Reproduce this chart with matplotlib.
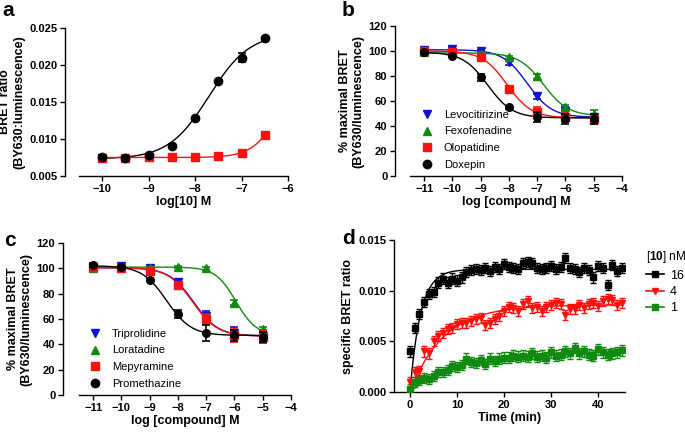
import numpy as np
import matplotlib
matplotlib.use('Agg')
import matplotlib.pyplot as plt
from matplotlib.lines import Line2D

plt.rcParams['font.family'] = ['Liberation Sans', 'DejaVu Sans']
plt.rcParams['font.weight'] = 'bold'
plt.rcParams['axes.labelweight'] = 'bold'
plt.rcParams['mathtext.fontset'] = 'custom'
plt.rcParams['mathtext.rm'] = 'Liberation Sans'
plt.rcParams['mathtext.bf'] = 'Liberation Sans:bold'

BLUE = '#1010d0'
GREEN = '#108a10'
RED = '#ff1010'

# ---- panel a: saturation binding ----
a_logc = [-10, -9.5, -9, -8.5, -8, -7.5, -7, -6.5]
a_total = [0.0076, 0.0074, 0.0078, 0.0091, 0.0128, 0.0178, 0.0210, 0.0236]
a_total_err = [0.0002, 0.0002, 0.0002, 0.0002, 0.0002, 0.0002, 0.0006, 0.0002]
a_nsb = [0.0075, 0.0074, 0.0076, 0.0076, 0.0076, 0.0077, 0.0081, 0.0105]
# fitted curve parameters: bottom, top, logEC50, hill
a_total_fit = [0.0073, 0.0243, -7.70, 1.0]
a_nsb_fit = [0.0075, 0.0200, -6.17, 1.5]

# ---- panel b/c: competition curves ----
logc = [-11, -10, -9, -8, -7, -6, -5]

b_names = ['Levocitirizine', 'Fexofenadine', 'Olopatidine', 'Doxepin']
b_vals = [[101, 102, 100, 91, 64, 52, 47],
          [99, 99, 98, 95, 80, 55, 50],
          [100, 99, 95, 70, 51, 47, 46],
          [99, 96, 79, 55, 47, 46, 46]]
b_errs = [[1, 1, 1, 2, 2, 3, 3],
          [1, 1, 1, 1, 2, 2, 3],
          [1, 1, 2, 2, 4, 4, 4],
          [1, 1, 3, 1, 4, 4, 4]]
# bottom, top, logIC50, hill
b_fits = [[47, 101, -7.35, 1.0],
          [48, 98.5, -6.78, 1.0],
          [46.5, 100, -8.07, 1.0],
          [46.5, 99, -8.75, 1.0]]

c_names = ['Triprolidine', 'Loratadine', 'Mepyramine', 'Promethazine']
c_vals = [[101, 102, 100, 89, 62, 49, 46],
          [100, 101, 100, 101, 100, 73, 52],
          [101, 100, 98, 87, 60, 47, 46],
          [103, 101, 91, 64, 49, 47, 46]]
c_errs = [[1, 1, 1, 2, 4, 5, 5],
          [1, 1, 1, 1, 1, 2, 2],
          [1, 1, 1, 2, 4, 5, 5],
          [1, 1, 1, 3, 6, 4, 4]]
c_fits = [[46.5, 100.5, -7.45, 1.0],
          [47, 101, -5.95, 1.2],
          [46.5, 100.5, -7.48, 1.0],
          [47, 102, -8.40, 1.0]]

markers = ['v', '^', 's', 'o']
colors = [BLUE, GREEN, RED, 'black']

# ---- panel d: association kinetics ----
time_min = list(range(46))
d_16 = [0.0040, 0.0063, 0.0077, 0.0089, 0.0097, 0.0099, 0.0108, 0.0112, 0.0108, 0.0112,
        0.0110, 0.0113, 0.0118, 0.0120, 0.0121, 0.0120, 0.0122, 0.0119, 0.0123, 0.0121,
        0.0126, 0.0123, 0.0122, 0.0121, 0.0127, 0.0128, 0.0127, 0.0122, 0.0121, 0.0122,
        0.0124, 0.0121, 0.0123, 0.0132, 0.0122, 0.0121, 0.0118, 0.0122, 0.0120, 0.0113,
        0.0124, 0.0122, 0.0106, 0.0125, 0.0119, 0.0122]
d_4 = [0.0010, 0.0020, 0.0021, 0.0040, 0.0038, 0.0050, 0.0055, 0.0058, 0.0062, 0.0063,
       0.0067, 0.0068, 0.0068, 0.0070, 0.0072, 0.0073, 0.0066, 0.0068, 0.0072, 0.0075,
       0.0080, 0.0084, 0.0083, 0.0080, 0.0087, 0.0090, 0.0083, 0.0084, 0.0080, 0.0084,
       0.0086, 0.0088, 0.0087, 0.0076, 0.0082, 0.0082, 0.0086, 0.0083, 0.0087, 0.0088,
       0.0085, 0.0090, 0.0092, 0.0091, 0.0086, 0.0088]
d_1 = [0.0003, 0.0010, 0.0012, 0.0014, 0.0013, 0.0016, 0.0020, 0.0020, 0.0022, 0.0026,
       0.0025, 0.0027, 0.0033, 0.0030, 0.0029, 0.0032, 0.0028, 0.0033, 0.0031, 0.0033,
       0.0034, 0.0034, 0.0036, 0.0035, 0.0036, 0.0035, 0.0038, 0.0035, 0.0036, 0.0034,
       0.0039, 0.0036, 0.0037, 0.0040, 0.0038, 0.0043, 0.0038, 0.0040, 0.0037, 0.0036,
       0.0042, 0.0039, 0.0037, 0.0038, 0.0039, 0.0041]
d_err = [0.0005, 0.0005, 0.0005]
# one-phase association fits: plateau, k (1/min)
d_fits = [[0.0121, 0.45], [0.0086, 0.14], [0.0040, 0.10]]
d_labels = ['16', '4', '1']
d_markers = ['s', 'v', 's']
d_colors = ['black', RED, GREEN]


def sigmoid(x, p, rising=True):
    bottom, top, mid, hill = p
    if rising:
        return bottom + (top - bottom) / (1 + 10 ** (hill * (mid - x)))
    return bottom + (top - bottom) / (1 + 10 ** (hill * (x - mid)))


fig = plt.figure(figsize=(6.85, 4.32), dpi=100)


def add_axes_px(l, r, t, b):
    return fig.add_axes([l / 685, 1 - b / 432, (r - l) / 685, (b - t) / 432])


def prism_style(ax, offset_px):
    ax.spines['top'].set_visible(False)
    ax.spines['right'].set_visible(False)
    ax.spines['left'].set_position(('outward', offset_px * 0.72))
    for s in ['left', 'bottom']:
        ax.spines[s].set_linewidth(1.0)
    ax.tick_params(width=1.0, length=3.5, labelsize=8, pad=2)
    ax.patch.set_alpha(0)


# panel a
ax = add_axes_px(79, 288, 28, 176)
xs = np.linspace(-10, -6.5, 200)
ax.plot(xs, sigmoid(xs, a_total_fit), color='black', lw=1.0)
ax.plot(xs, sigmoid(xs, a_nsb_fit), color=RED, lw=1.0)
ax.errorbar(a_logc, a_nsb, fmt='s', color=RED, ms=6, zorder=3)
ax.errorbar(a_logc, a_total, yerr=a_total_err, fmt='o', color='black', ms=6,
            capsize=3, elinewidth=1.2, capthick=1.2, zorder=4)
ax.set_xlim(-10.5, -6)
ax.set_ylim(0.005, 0.025)
ax.set_xticks([-10, -9, -8, -7, -6])
ax.set_yticks([0.005, 0.010, 0.015, 0.020, 0.025])
ax.set_yticklabels(['0.005', '0.010', '0.015', '0.020', '0.025'])
prism_style(ax, 14)
ax.set_xlabel('log[10] M', fontsize=9, labelpad=2)
ax.set_ylabel('BRET ratio\n(BY630:luminescence)', fontsize=9, labelpad=3)


def competition(ax, names, vals, errs, fits):
    xs = np.linspace(-11, -5, 200)
    handles = []
    for i in range(len(names)):
        ax.plot(xs, sigmoid(xs, fits[i], rising=False), color=colors[i], lw=1.0, zorder=2)
    for i in [1, 2, 0, 3]:
        ax.errorbar(logc, vals[i], yerr=errs[i], fmt=markers[i], color=colors[i],
                    ms=5.5, capsize=3, elinewidth=1.2, capthick=1.2, zorder=3 + i)
    for i in range(len(names)):
        handles.append(Line2D([], [], ls='none', marker=markers[i], color=colors[i], ms=6))
    ax.set_xlim(-11.5, -4)
    ax.set_ylim(0, 120)
    ax.set_xticks([-11, -10, -9, -8, -7, -6, -5, -4])
    ax.set_yticks([0, 20, 40, 60, 80, 100, 120])
    ax.set_xlabel('log [compound] M', fontsize=9, labelpad=2)
    ax.set_ylabel('% maximal BRET\n(BY630/luminescence)', fontsize=9, labelpad=3)
    return handles


# panel b
ax = add_axes_px(410, 622, 26, 176)
h = competition(ax, b_names, b_vals, b_errs, b_fits)
prism_style(ax, 15)
ax.legend(h, b_names, loc='upper left', bbox_to_anchor=(415 / 685, 1 - 104 / 432),
          bbox_transform=fig.transFigure, frameon=False, prop={'weight': 'normal', 'size': 8},
          handlelength=1.2, handletextpad=0.9, labelspacing=0.62, borderpad=0)

# panel c
ax = add_axes_px(79, 291, 243, 395)
h = competition(ax, c_names, c_vals, c_errs, c_fits)
prism_style(ax, 16)
ax.legend(h, c_names, loc='upper left', bbox_to_anchor=(83 / 685, 1 - 323 / 432),
          bbox_transform=fig.transFigure, frameon=False, prop={'weight': 'normal', 'size': 8},
          handlelength=1.2, handletextpad=0.9, labelspacing=0.62, borderpad=0)

# panel d
ax = add_axes_px(394, 625, 240, 392)
ts = np.linspace(0, 45, 300)
series = [d_16, d_4, d_1]
handles = []
for i in range(3):
    plateau, k = d_fits[i]
    ax.plot(ts, plateau * (1 - np.exp(-k * ts)), color=d_colors[i], lw=1.0, zorder=2)
    ax.errorbar(time_min, series[i], yerr=d_err[i], fmt=d_markers[i], color=d_colors[i],
                ms=4.5, capsize=2.5, elinewidth=1.0, capthick=1.0, zorder=3)
    handles.append(Line2D([], [], color=d_colors[i], marker=d_markers[i], ms=4, lw=1.2))
ax.set_xlim(-3.4, 45.7)
ax.set_ylim(0, 0.015)
ax.set_xticks([0, 10, 20, 30, 40])
ax.set_yticks([0, 0.005, 0.010, 0.015])
ax.set_yticklabels(['0.000', '0.005', '0.010', '0.015'])
prism_style(ax, 0)
ax.set_xlabel('Time (min)', fontsize=9, labelpad=2)
ax.set_ylabel('specific BRET ratio', fontsize=9, labelpad=3)
leg = ax.legend(handles, d_labels, loc='upper left', bbox_to_anchor=(640 / 685, 1 - 243 / 432),
                bbox_transform=fig.transFigure, frameon=False,
                prop={'weight': 'normal', 'size': 9},
                title='[$\\mathbf{10}$] nM', title_fontproperties={'weight': 'normal', 'size': 8.5},
                handlelength=1.4, handletextpad=0.5, labelspacing=0.35, borderpad=0)
leg._legend_box.align = 'left'

# panel letters
for letter, x, y in [('a', 2, 16), ('b', 342, 16), ('c', 4, 246), ('d', 342, 244)]:
    fig.text(x / 685, 1 - y / 432, letter, fontsize=15, fontweight='bold')

fig.savefig('out.png', dpi=100)
